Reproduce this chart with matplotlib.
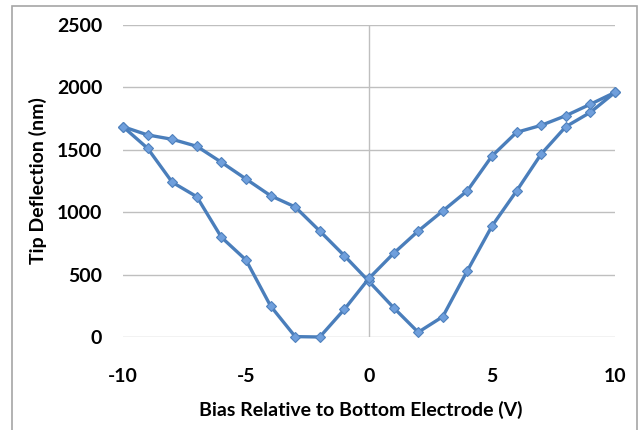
import matplotlib
matplotlib.use("Agg")
import matplotlib.pyplot as plt
from matplotlib.patches import Rectangle

plt.rcParams['font.family'] = ['Lato', 'DejaVu Sans']
plt.rcParams['axes.unicode_minus'] = False

# bias sweep (V) and tip deflection (nm) for the two branches of the loop
bias = [-10, -9, -8, -7, -6, -5, -4, -3, -2, -1, 0, 1, 2, 3, 4, 5, 6, 7, 8, 9, 10]
defl_a = [1685, 1619, 1584, 1528, 1400, 1266, 1132, 1042, 849, 651, 445,
          235, 38, 163, 531, 889, 1170, 1466, 1685, 1800, 1960]
defl_b = [1685, 1512, 1240, 1124, 799, 617, 248, 3, 0, 222, 470,
          670, 849, 1010, 1172, 1450, 1640, 1696, 1773, 1865, 1960]

xticks = [-10, -5, 0, 5, 10]
yticks = [0, 500, 1000, 1500, 2000, 2500]

fig = plt.figure(figsize=(6.39, 4.30), dpi=100)
ax = fig.add_axes([0.1925, 0.2163, 0.7699, 0.7256])

for ys in (defl_a, defl_b):
    ax.plot(bias, ys, color="#4a7ebb", lw=2.4, marker="D", ms=5.5,
            mfc="#6f9fdc", mec="#4f81bd", mew=0.8, zorder=3, clip_on=False)

ax.set_xlim(-10, 10)
ax.set_ylim(0, 2500)
ax.set_xticks(xticks)
ax.set_yticks(yticks)
ax.grid(axis="y", color="#bfbfbf", lw=1)
ax.axvline(0, color="#bfbfbf", lw=1, zorder=1)
ax.set_axisbelow(True)
for s in ax.spines.values():
    s.set_visible(False)
ax.tick_params(length=0, labelsize=14)
ax.tick_params(axis="x", pad=22)
ax.tick_params(axis="y", pad=15)
for lab in ax.get_xticklabels() + ax.get_yticklabels():
    lab.set_fontweight("bold")

fig.text(361 / 639, 1 - 410 / 430, "Bias Relative to Bottom Electrode (V)",
         ha="center", va="center", fontsize=14, fontweight="bold")
fig.text(38 / 639, 1 - 181 / 430, "Tip Deflection (nm)", rotation=90,
         ha="center", va="center", fontsize=14, fontweight="bold")

# outer chart frame
fig.patches.append(Rectangle((11.5 / 639, -0.05), 625 / 639, 0.05 + 1 - 6 / 430,
                             transform=fig.transFigure, fill=False,
                             ec="#a6a6a6", lw=1.2))

fig.savefig("out.png", dpi=100, facecolor="white")
plt.close(fig)
